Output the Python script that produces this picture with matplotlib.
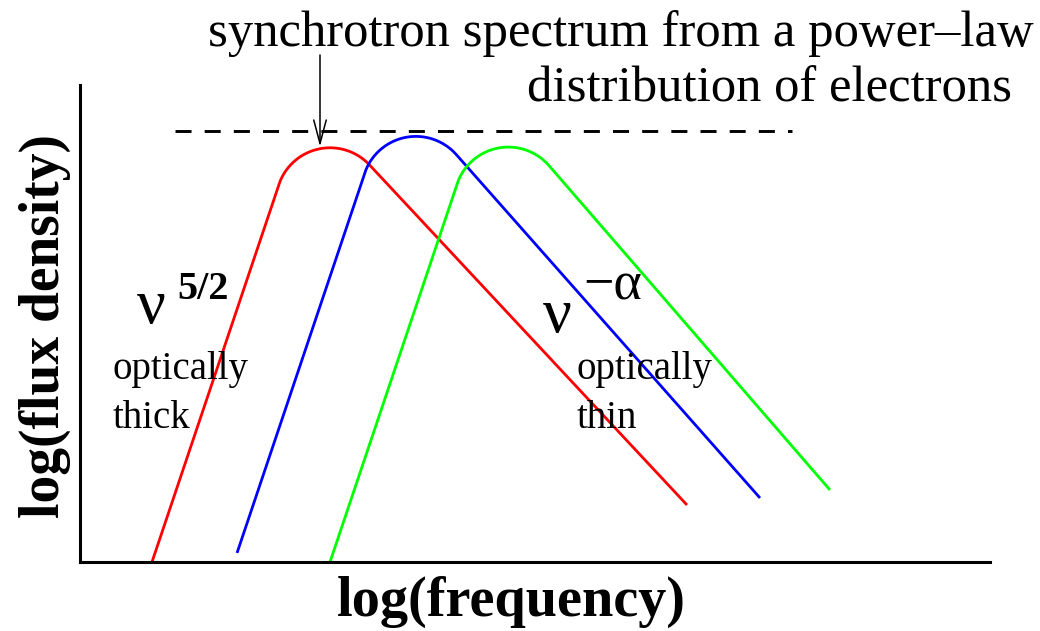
import numpy as np
import matplotlib.pyplot as plt

plt.rcParams['font.family'] = ['Liberation Serif', 'DejaVu Serif']

# synchrotron spectra: log(nu) where the optically thick branch crosses log(S)=0,
# log(S) where each drawn curve starts, and the end of the optically thin branch
nu_zero = [0.72, 1.54, 2.50]
s_start = [0.0, 0.076, 0.0]
nu_end = [6.07, 6.80, 7.50]
s_end = [0.479, 0.538, 0.605]
thick_index = 2.5            # S ~ nu^(5/2) below the turnover
alpha = [0.90, 0.95, 0.97]   # S ~ nu^-alpha above the turnover
colors = ['#ff0000', '#0000ff', '#00ff00']

# flux level of the dashed envelope and its extent in log(nu)
envelope_s = 3.62
envelope_nu = [0.95, 7.12]

W, H = 1040, 631
fig = plt.figure(figsize=(W / 100, H / 100), dpi=100)
ax = fig.add_axes([80 / W, 69 / H, 910 / W, 477 / H])
ax.set_xlim(0, 9.1)
ax.set_ylim(0, 4.008)
ax.set_xticks([])
ax.set_yticks([])
for side in ['top', 'right']:
    ax.spines[side].set_visible(False)
for side in ['left', 'bottom']:
    ax.spines[side].set_linewidth(2.2)

# y units are stretched relative to x units on screen; arcs are built in equal units
aspect = (477 / 4.008) / (910 / 9.1)
radius = 0.54


def spectrum(x0, y0, x1, y1, a, n=200):
    # corner where the two power laws would meet
    xc = (y1 + a * x1 + thick_index * x0) / (thick_index + a)
    yc = thick_index * (xc - x0)
    p = np.array([xc, yc * aspect])
    u1 = np.array([-1.0, -thick_index * aspect])
    u1 /= np.linalg.norm(u1)
    u2 = np.array([1.0, -a * aspect])
    u2 /= np.linalg.norm(u2)
    half = np.arccos(u1 @ u2) / 2
    bis = (u1 + u2) / np.linalg.norm(u1 + u2)
    c = p + bis * radius / np.sin(half)
    t1 = p + u1 * radius / np.tan(half)
    t2 = p + u2 * radius / np.tan(half)
    a1 = np.arctan2(*(t1 - c)[::-1])
    a2 = np.arctan2(*(t2 - c)[::-1])
    th = np.linspace(a1, a2, n)
    arc = np.column_stack([c[0] + radius * np.cos(th), c[1] + radius * np.sin(th)])
    start = [x0 + y0 / thick_index, y0 * aspect]
    end = [x1, y1 * aspect]
    pts = np.vstack([start, arc, end])
    pts[:, 1] /= aspect
    return pts


peaks = []
for i in range(3):
    pts = spectrum(nu_zero[i], s_start[i], nu_end[i], s_end[i], alpha[i])
    ax.plot(pts[:, 0], pts[:, 1], color=colors[i], lw=2.0, clip_on=False,
            solid_capstyle='butt')
    peaks.append(pts[np.argmax(pts[:, 1])])

ax.plot(envelope_nu, [envelope_s, envelope_s], color='black', lw=2.1,
        dashes=(5.5, 4.5), clip_on=False)

# arrow from the caption down to the first spectrum
ax.annotate('', xy=(2.4, peaks[0][1] + 0.01), xytext=(2.4, 4.26),
            arrowprops=dict(arrowstyle='->,head_length=1.7,head_width=0.45',
                            lw=1.1, color='black', shrinkA=0, shrinkB=0),
            annotation_clip=False)

fig.text(208 / W, 1 - 46 / H, 'synchrotron spectrum from a power\u2013law',
         fontsize=36.5, va='baseline', ha='left')
fig.text(527 / W, 1 - 102 / H, 'distribution of electrons',
         fontsize=36.5, va='baseline', ha='left')

fig.text(45 / W, 1 - 326 / H, 'log(flux density)', fontsize=40, fontweight='bold',
         rotation=90, ha='center', va='center')
fig.text(511 / W, 1 - 602 / H, 'log(frequency)', fontsize=40.5, fontweight='bold',
         ha='center', va='center')

# optically thick side
fig.text(137 / W, 1 - 323 / H, '\u03bd', fontsize=46, va='baseline')
fig.text(177 / W, 1 - 299 / H, '5/2', fontsize=29, fontweight='bold', va='baseline')
fig.text(113 / W, 1 - 379 / H, 'optically', fontsize=28, va='baseline')
fig.text(113 / W, 1 - 428 / H, 'thick', fontsize=28, va='baseline')

# optically thin side
fig.text(543 / W, 1 - 332 / H, '\u03bd', fontsize=46, va='baseline')
fig.text(583 / W, 1 - 299 / H, '\u2212\u03b1', fontsize=39, va='baseline')
fig.text(577 / W, 1 - 379 / H, 'optically', fontsize=28, va='baseline')
fig.text(577 / W, 1 - 428 / H, 'thin', fontsize=28, va='baseline')

fig.savefig('out.png', dpi=100)
